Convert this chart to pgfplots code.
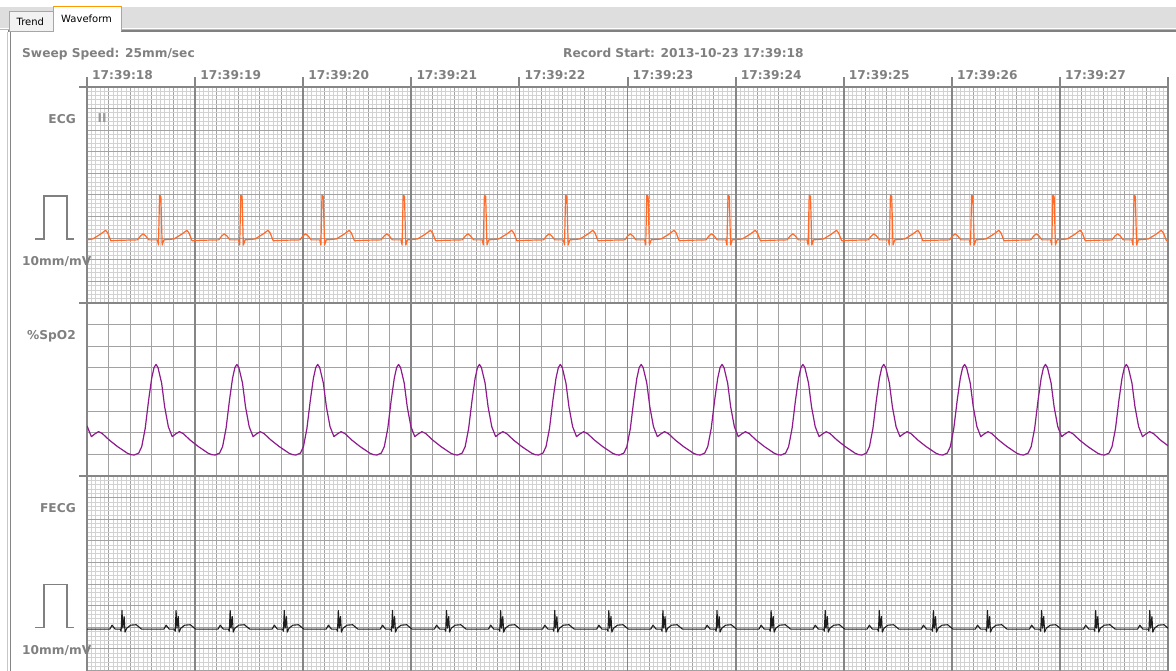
\documentclass[border=0pt]{standalone}
\usepackage{pgfplots}
\pgfplotsset{compat=1.18}
\usepackage{fontspec}
\setmainfont{DejaVu Sans}

\definecolor{lbl}{HTML}{808080}
\definecolor{minorg}{HTML}{D2D2D2}
\definecolor{majorg}{HTML}{A2A2A2}
\definecolor{secg}{HTML}{868686}
\definecolor{ecgc}{HTML}{FF6A28}
\definecolor{spoc}{HTML}{8E1A8E}
\definecolor{fecgc}{HTML}{1E1E1E}
\definecolor{barg}{HTML}{DEDEDE}

\pgfplotsset{
  panel/.style={
    x=4.324pt, y=4.324pt,
    xmin=0, xmax=250, ymin=0,
    anchor=south west,
    enlargelimits=false,
    xtick={0,5,...,250}, ytick={0,5,...,50},
    xticklabels={}, yticklabels={},
    tick label style={text opacity=0, font=\tiny, inner sep=0pt},
    major tick length=0pt, minor tick length=0pt,
    major grid style={draw=majorg, line width=1pt},
    minor grid style={draw=minorg, line width=0.8pt},
    extra x ticks={0,25,...,250},
    extra x tick labels={},
    extra x tick style={grid=major, major grid style={draw=secg, line width=1.8pt},
      tick label style={text opacity=0}},
    axis line style={draw=secg, line width=2pt},
  },
}

\tikzset{lab/.style={font=\fontsize{12.2}{14}\selectfont\bfseries, text=lbl, inner sep=0pt}}

\begin{document}
\begin{tikzpicture}
\useasboundingbox (0pt,0pt) rectangle (1176pt,671pt);
\fill[white] (0pt,0pt) rectangle (1176pt,671pt);

% window chrome: tab bar
\fill[barg] (0pt,642.5pt) rectangle (1176pt,664pt);
\draw[color=black!28, line width=1.2pt] (0pt,641.8pt) -- (1176pt,641.8pt);
\draw[color=black!50, line width=2pt] (8pt,639.5pt) -- (1176pt,639.5pt);
\filldraw[fill=black!5, draw=black!35, line width=0.8pt] (9.5pt,640pt) rectangle (53pt,659.5pt);
\node[anchor=base west, inner sep=0pt, font=\fontsize{10}{12}\selectfont] at (16.5pt,645pt) {Trend};
\filldraw[fill=white, draw=black!35, line width=0.8pt] (53.5pt,639.5pt) -- (53.5pt,664.5pt) -- (121.5pt,664.5pt) -- (121.5pt,639.5pt);
\fill[white] (54pt,638pt) rectangle (121pt,642pt);
\draw[color=orange!80!yellow, line width=1.8pt] (54pt,664.5pt) -- (121pt,664.5pt);
\node[anchor=base west, inner sep=0pt, font=\fontsize{10}{12}\selectfont] at (61pt,648.3pt) {Waveform};
\draw[color=black!22, line width=1.2pt] (7.8pt,0pt) -- (7.8pt,639pt);
\draw[color=black!48, line width=1.2pt] (10.2pt,0pt) -- (10.2pt,639pt);

% ECG panel
\begin{axis}[panel, at={(87pt,368pt)}, ymax=50, grid=both,
  minor x tick num=4, minor y tick num=4]
\addplot[ecgc, line width=1.2pt, line join=round] coordinates {
(0,14.6) (1.3,14.8) (3.1,15.9) (4.3,16.8) (4.8,16.2) (5.5,14.4) (7.6,14.5)
(11.68,14.6) (12.38,15.5) (12.98,16.0) (13.58,15.5) (14.28,14.6) (16.28,14.6) (16.53,13.4) (16.78,24.9) (17.08,24.7) (17.38,13.4) (17.78,14.6) (20.08,14.8) (21.88,15.9) (23.08,16.8) (23.58,16.2) (24.28,14.4) (26.38,14.5)
(30.46,14.6) (31.16,15.5) (31.76,16.0) (32.36,15.5) (33.06,14.6) (35.06,14.6) (35.31,13.4) (35.56,24.9) (35.86,24.7) (36.16,13.4) (36.56,14.6) (38.86,14.8) (40.66,15.9) (41.86,16.8) (42.36,16.2) (43.06,14.4) (45.16,14.5)
(49.24,14.6) (49.94,15.5) (50.54,16.0) (51.14,15.5) (51.84,14.6) (53.84,14.6) (54.09,13.4) (54.34,24.9) (54.64,24.7) (54.94,13.4) (55.34,14.6) (57.64,14.8) (59.44,15.9) (60.64,16.8) (61.14,16.2) (61.84,14.4) (63.94,14.5)
(68.02,14.6) (68.72,15.5) (69.32,16.0) (69.92,15.5) (70.62,14.6) (72.62,14.6) (72.87,13.4) (73.12,24.9) (73.42,24.7) (73.72,13.4) (74.12,14.6) (76.42,14.8) (78.22,15.9) (79.42,16.8) (79.92,16.2) (80.62,14.4) (82.72,14.5)
(86.80,14.6) (87.50,15.5) (88.10,16.0) (88.70,15.5) (89.40,14.6) (91.40,14.6) (91.65,13.4) (91.90,24.9) (92.20,24.7) (92.50,13.4) (92.90,14.6) (95.20,14.8) (97.00,15.9) (98.20,16.8) (98.70,16.2) (99.40,14.4) (101.50,14.5)
(105.58,14.6) (106.28,15.5) (106.88,16.0) (107.48,15.5) (108.18,14.6) (110.18,14.6) (110.43,13.4) (110.68,24.9) (110.98,24.7) (111.28,13.4) (111.68,14.6) (113.98,14.8) (115.78,15.9) (116.98,16.8) (117.48,16.2) (118.18,14.4) (120.28,14.5)
(124.36,14.6) (125.06,15.5) (125.66,16.0) (126.26,15.5) (126.96,14.6) (128.96,14.6) (129.21,13.4) (129.46,24.9) (129.76,24.7) (130.06,13.4) (130.46,14.6) (132.76,14.8) (134.56,15.9) (135.76,16.8) (136.26,16.2) (136.96,14.4) (139.06,14.5)
(143.14,14.6) (143.84,15.5) (144.44,16.0) (145.04,15.5) (145.74,14.6) (147.74,14.6) (147.99,13.4) (148.24,24.9) (148.54,24.7) (148.84,13.4) (149.24,14.6) (151.54,14.8) (153.34,15.9) (154.54,16.8) (155.04,16.2) (155.74,14.4) (157.84,14.5)
(161.92,14.6) (162.62,15.5) (163.22,16.0) (163.82,15.5) (164.52,14.6) (166.52,14.6) (166.77,13.4) (167.02,24.9) (167.32,24.7) (167.62,13.4) (168.02,14.6) (170.32,14.8) (172.12,15.9) (173.32,16.8) (173.82,16.2) (174.52,14.4) (176.62,14.5)
(180.70,14.6) (181.40,15.5) (182.00,16.0) (182.60,15.5) (183.30,14.6) (185.30,14.6) (185.55,13.4) (185.80,24.9) (186.10,24.7) (186.40,13.4) (186.80,14.6) (189.10,14.8) (190.90,15.9) (192.10,16.8) (192.60,16.2) (193.30,14.4) (195.40,14.5)
(199.48,14.6) (200.18,15.5) (200.78,16.0) (201.38,15.5) (202.08,14.6) (204.08,14.6) (204.33,13.4) (204.58,24.9) (204.88,24.7) (205.18,13.4) (205.58,14.6) (207.88,14.8) (209.68,15.9) (210.88,16.8) (211.38,16.2) (212.08,14.4) (214.18,14.5)
(218.26,14.6) (218.96,15.5) (219.56,16.0) (220.16,15.5) (220.86,14.6) (222.86,14.6) (223.11,13.4) (223.36,24.9) (223.66,24.7) (223.96,13.4) (224.36,14.6) (226.66,14.8) (228.46,15.9) (229.66,16.8) (230.16,16.2) (230.86,14.4) (232.96,14.5)
(237.04,14.6) (237.74,15.5) (238.34,16.0) (238.94,15.5) (239.64,14.6) (241.64,14.6) (241.89,13.4) (242.14,24.9) (242.44,24.7) (242.74,13.4) (243.14,14.6) (245.44,14.8) (247.24,15.9) (248.44,16.8) (248.94,16.2) (249.64,14.4) (250,14.4)
};
\end{axis}

% SpO2 panel
\begin{axis}[panel, at={(87pt,195pt)}, ymax=40, grid=major]
\addplot[spoc, line width=1.2pt, line join=round] coordinates {
(0,11.6) (1.01,9.1) (1.76,9.7) (2.66,10.25) (3.56,9.8) (5.16,8.3) (7.06,6.8) (9.36,5.25) (10.26,4.9)
(10.96,4.86) (11.96,5.3) (12.66,6.8) (13.46,11.0) (14.26,17.6) (14.96,22.6) (15.51,25.1) (15.96,25.8) (16.41,25.1) (17.26,21.5) (17.96,16.0) (18.81,11.4) (19.71,9.1) (20.46,9.7) (21.36,10.25) (22.26,9.8) (23.86,8.3) (25.76,6.8) (28.06,5.25) (28.96,4.9)
(29.66,4.86) (30.66,5.3) (31.36,6.8) (32.16,11.0) (32.96,17.6) (33.66,22.6) (34.21,25.1) (34.66,25.8) (35.11,25.1) (35.96,21.5) (36.66,16.0) (37.51,11.4) (38.41,9.1) (39.16,9.7) (40.06,10.25) (40.96,9.8) (42.56,8.3) (44.46,6.8) (46.76,5.25) (47.66,4.9)
(48.36,4.86) (49.36,5.3) (50.06,6.8) (50.86,11.0) (51.66,17.6) (52.36,22.6) (52.91,25.1) (53.36,25.8) (53.81,25.1) (54.66,21.5) (55.36,16.0) (56.21,11.4) (57.11,9.1) (57.86,9.7) (58.76,10.25) (59.66,9.8) (61.26,8.3) (63.16,6.8) (65.46,5.25) (66.36,4.9)
(67.06,4.86) (68.06,5.3) (68.76,6.8) (69.56,11.0) (70.36,17.6) (71.06,22.6) (71.61,25.1) (72.06,25.8) (72.51,25.1) (73.36,21.5) (74.06,16.0) (74.91,11.4) (75.81,9.1) (76.56,9.7) (77.46,10.25) (78.36,9.8) (79.96,8.3) (81.86,6.8) (84.16,5.25) (85.06,4.9)
(85.76,4.86) (86.76,5.3) (87.46,6.8) (88.26,11.0) (89.06,17.6) (89.76,22.6) (90.31,25.1) (90.76,25.8) (91.21,25.1) (92.06,21.5) (92.76,16.0) (93.61,11.4) (94.51,9.1) (95.26,9.7) (96.16,10.25) (97.06,9.8) (98.66,8.3) (100.56,6.8) (102.86,5.25) (103.76,4.9)
(104.46,4.86) (105.46,5.3) (106.16,6.8) (106.96,11.0) (107.76,17.6) (108.46,22.6) (109.01,25.1) (109.46,25.8) (109.91,25.1) (110.76,21.5) (111.46,16.0) (112.31,11.4) (113.21,9.1) (113.96,9.7) (114.86,10.25) (115.76,9.8) (117.36,8.3) (119.26,6.8) (121.56,5.25) (122.46,4.9)
(123.16,4.86) (124.16,5.3) (124.86,6.8) (125.66,11.0) (126.46,17.6) (127.16,22.6) (127.71,25.1) (128.16,25.8) (128.61,25.1) (129.46,21.5) (130.16,16.0) (131.01,11.4) (131.91,9.1) (132.66,9.7) (133.56,10.25) (134.46,9.8) (136.06,8.3) (137.96,6.8) (140.26,5.25) (141.16,4.9)
(141.86,4.86) (142.86,5.3) (143.56,6.8) (144.36,11.0) (145.16,17.6) (145.86,22.6) (146.41,25.1) (146.86,25.8) (147.31,25.1) (148.16,21.5) (148.86,16.0) (149.71,11.4) (150.61,9.1) (151.36,9.7) (152.26,10.25) (153.16,9.8) (154.76,8.3) (156.66,6.8) (158.96,5.25) (159.86,4.9)
(160.56,4.86) (161.56,5.3) (162.26,6.8) (163.06,11.0) (163.86,17.6) (164.56,22.6) (165.11,25.1) (165.56,25.8) (166.01,25.1) (166.86,21.5) (167.56,16.0) (168.41,11.4) (169.31,9.1) (170.06,9.7) (170.96,10.25) (171.86,9.8) (173.46,8.3) (175.36,6.8) (177.66,5.25) (178.56,4.9)
(179.26,4.86) (180.26,5.3) (180.96,6.8) (181.76,11.0) (182.56,17.6) (183.26,22.6) (183.81,25.1) (184.26,25.8) (184.71,25.1) (185.56,21.5) (186.26,16.0) (187.11,11.4) (188.01,9.1) (188.76,9.7) (189.66,10.25) (190.56,9.8) (192.16,8.3) (194.06,6.8) (196.36,5.25) (197.26,4.9)
(197.96,4.86) (198.96,5.3) (199.66,6.8) (200.46,11.0) (201.26,17.6) (201.96,22.6) (202.51,25.1) (202.96,25.8) (203.41,25.1) (204.26,21.5) (204.96,16.0) (205.81,11.4) (206.71,9.1) (207.46,9.7) (208.36,10.25) (209.26,9.8) (210.86,8.3) (212.76,6.8) (215.06,5.25) (215.96,4.9)
(216.66,4.86) (217.66,5.3) (218.36,6.8) (219.16,11.0) (219.96,17.6) (220.66,22.6) (221.21,25.1) (221.66,25.8) (222.11,25.1) (222.96,21.5) (223.66,16.0) (224.51,11.4) (225.41,9.1) (226.16,9.7) (227.06,10.25) (227.96,9.8) (229.56,8.3) (231.46,6.8) (233.76,5.25) (234.66,4.9)
(235.36,4.86) (236.36,5.3) (237.06,6.8) (237.86,11.0) (238.66,17.6) (239.36,22.6) (239.91,25.1) (240.36,25.8) (240.81,25.1) (241.66,21.5) (242.36,16.0) (243.21,11.4) (244.11,9.1) (244.86,9.7) (245.76,10.25) (246.66,9.8) (248.26,8.3) (250,7.0)
};
\end{axis}

% FECG panel
\begin{axis}[panel, at={(87pt,-21.2pt)}, ymax=50, grid=both,
  minor x tick num=4, minor y tick num=4]
\addplot[fecgc, line width=1.1pt, line join=round] coordinates {
(0,14.6)
(5.29,14.6) (5.79,15.5) (6.49,14.6) (7.69,14.6) (7.89,14.1) (8.09,18.9) (8.29,14.8) (8.59,17.5) (8.79,13.9) (9.19,14.8) (10.09,15.5) (11.39,15.6) (12.59,14.6)
(17.80,14.6) (18.30,15.5) (19.00,14.6) (20.20,14.6) (20.40,14.1) (20.60,18.9) (20.80,14.8) (21.10,17.5) (21.30,13.9) (21.70,14.8) (22.60,15.5) (23.90,15.6) (25.10,14.6)
(30.31,14.6) (30.81,15.5) (31.51,14.6) (32.71,14.6) (32.91,14.1) (33.11,18.9) (33.31,14.8) (33.61,17.5) (33.81,13.9) (34.21,14.8) (35.11,15.5) (36.41,15.6) (37.61,14.6)
(42.82,14.6) (43.32,15.5) (44.02,14.6) (45.22,14.6) (45.42,14.1) (45.62,18.9) (45.82,14.8) (46.12,17.5) (46.32,13.9) (46.72,14.8) (47.62,15.5) (48.92,15.6) (50.12,14.6)
(55.33,14.6) (55.83,15.5) (56.53,14.6) (57.73,14.6) (57.93,14.1) (58.13,18.9) (58.33,14.8) (58.63,17.5) (58.83,13.9) (59.23,14.8) (60.13,15.5) (61.43,15.6) (62.63,14.6)
(67.84,14.6) (68.34,15.5) (69.04,14.6) (70.24,14.6) (70.44,14.1) (70.64,18.9) (70.84,14.8) (71.14,17.5) (71.34,13.9) (71.74,14.8) (72.64,15.5) (73.94,15.6) (75.14,14.6)
(80.35,14.6) (80.85,15.5) (81.55,14.6) (82.75,14.6) (82.95,14.1) (83.15,18.9) (83.35,14.8) (83.65,17.5) (83.85,13.9) (84.25,14.8) (85.15,15.5) (86.45,15.6) (87.65,14.6)
(92.86,14.6) (93.36,15.5) (94.06,14.6) (95.26,14.6) (95.46,14.1) (95.66,18.9) (95.86,14.8) (96.16,17.5) (96.36,13.9) (96.76,14.8) (97.66,15.5) (98.96,15.6) (100.16,14.6)
(105.37,14.6) (105.87,15.5) (106.57,14.6) (107.77,14.6) (107.97,14.1) (108.17,18.9) (108.37,14.8) (108.67,17.5) (108.87,13.9) (109.27,14.8) (110.17,15.5) (111.47,15.6) (112.67,14.6)
(117.88,14.6) (118.38,15.5) (119.08,14.6) (120.28,14.6) (120.48,14.1) (120.68,18.9) (120.88,14.8) (121.18,17.5) (121.38,13.9) (121.78,14.8) (122.68,15.5) (123.98,15.6) (125.18,14.6)
(130.39,14.6) (130.89,15.5) (131.59,14.6) (132.79,14.6) (132.99,14.1) (133.19,18.9) (133.39,14.8) (133.69,17.5) (133.89,13.9) (134.29,14.8) (135.19,15.5) (136.49,15.6) (137.69,14.6)
(142.90,14.6) (143.40,15.5) (144.10,14.6) (145.30,14.6) (145.50,14.1) (145.70,18.9) (145.90,14.8) (146.20,17.5) (146.40,13.9) (146.80,14.8) (147.70,15.5) (149.00,15.6) (150.20,14.6)
(155.41,14.6) (155.91,15.5) (156.61,14.6) (157.81,14.6) (158.01,14.1) (158.21,18.9) (158.41,14.8) (158.71,17.5) (158.91,13.9) (159.31,14.8) (160.21,15.5) (161.51,15.6) (162.71,14.6)
(167.92,14.6) (168.42,15.5) (169.12,14.6) (170.32,14.6) (170.52,14.1) (170.72,18.9) (170.92,14.8) (171.22,17.5) (171.42,13.9) (171.82,14.8) (172.72,15.5) (174.02,15.6) (175.22,14.6)
(180.43,14.6) (180.93,15.5) (181.63,14.6) (182.83,14.6) (183.03,14.1) (183.23,18.9) (183.43,14.8) (183.73,17.5) (183.93,13.9) (184.33,14.8) (185.23,15.5) (186.53,15.6) (187.73,14.6)
(192.94,14.6) (193.44,15.5) (194.14,14.6) (195.34,14.6) (195.54,14.1) (195.74,18.9) (195.94,14.8) (196.24,17.5) (196.44,13.9) (196.84,14.8) (197.74,15.5) (199.04,15.6) (200.24,14.6)
(205.45,14.6) (205.95,15.5) (206.65,14.6) (207.85,14.6) (208.05,14.1) (208.25,18.9) (208.45,14.8) (208.75,17.5) (208.95,13.9) (209.35,14.8) (210.25,15.5) (211.55,15.6) (212.75,14.6)
(217.96,14.6) (218.46,15.5) (219.16,14.6) (220.36,14.6) (220.56,14.1) (220.76,18.9) (220.96,14.8) (221.26,17.5) (221.46,13.9) (221.86,14.8) (222.76,15.5) (224.06,15.6) (225.26,14.6)
(230.47,14.6) (230.97,15.5) (231.67,14.6) (232.87,14.6) (233.07,14.1) (233.27,18.9) (233.47,14.8) (233.77,17.5) (233.97,13.9) (234.37,14.8) (235.27,15.5) (236.57,15.6) (237.77,14.6)
(242.98,14.6) (243.48,15.5) (244.18,14.6) (245.38,14.6) (245.58,14.1) (245.78,18.9) (245.98,14.8) (246.28,17.5) (246.48,13.9) (246.88,14.8) (247.78,15.5) (249.08,15.6) (250,14.8)
};
\end{axis}

% stubs of the panel borders and second ticks above the strip
\foreach \yy in {584.2,368,195} \draw[secg, line width=2pt] (79pt,\yy pt) -- (87pt,\yy pt);
\foreach \xx in {87,195.1,303.2,411.3,519.4,627.5,735.6,843.7,951.8,1059.9,1168.1}
  \draw[secg, line width=2pt] (\xx pt,584.2pt) -- (\xx pt,594pt);

% header texts
\node[lab, anchor=base west] at (22pt,613.5pt) {Sweep Speed: 25mm/sec};
\node[lab, anchor=base west] at (563pt,613.5pt) {Record Start: 2013-10-23 17:39:18};
\foreach \xx/\tt in {87/17:39:18, 195.1/17:39:19, 303.2/17:39:20, 411.3/17:39:21, 519.4/17:39:22,
  627.5/17:39:23, 735.6/17:39:24, 843.7/17:39:25, 951.8/17:39:26, 1059.9/17:39:27}
  \node[lab, anchor=base west] at (\xx pt+5pt,591pt) {\tt};

% channel labels and calibration pulses
\node[lab, anchor=base east] at (76pt,547.7pt) {ECG};
\node[lab, anchor=base west, text=black!40] at (97.5pt,548pt) {II};
\draw[lbl, line width=1.2pt] (35pt,432pt) -- (44pt,432pt) -- (44pt,475pt) -- (67pt,475pt) -- (67pt,432pt) -- (74pt,432pt);
\node[lab, anchor=base west] at (22pt,405pt) {10mm/mV};
\node[lab, anchor=base east] at (76pt,331.7pt) {\%SpO2};
\node[lab, anchor=base east] at (76pt,158.7pt) {FECG};
\draw[lbl, line width=1.2pt] (35pt,43.7pt) -- (44pt,43.7pt) -- (44pt,86.7pt) -- (67pt,86.7pt) -- (67pt,43.7pt) -- (74pt,43.7pt);
\node[lab, anchor=base west] at (22pt,16pt) {10mm/mV};
\end{tikzpicture}
\end{document}
